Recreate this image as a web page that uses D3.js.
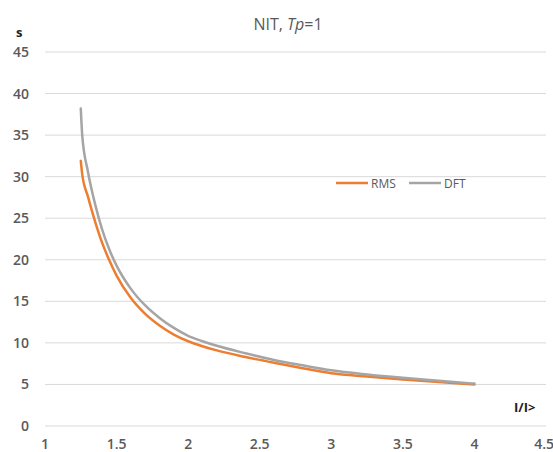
<!DOCTYPE html>
<html>
<head>
<meta charset="utf-8">
<script src="https://cdn.jsdelivr.net/npm/d3@7"></script>
<style>
  body { margin: 0; background: #fff; }
  text { font-family: "Open Sans", sans-serif; }
</style>
</head>
<body>
<svg id="chart" width="553" height="452"></svg>
<script>
// values
const current = [1.25, 1.26, 1.3, 1.35, 1.4, 1.45, 1.5, 1.6, 1.7, 1.8, 1.9, 2.0, 2.1, 2.2, 2.4, 2.6, 2.8, 3.0, 3.25, 3.5, 3.75, 4.0];
const rms = [31.9, 30.3, 27.6, 24.6, 22.0, 19.9, 18.1, 15.4, 13.5, 12.1, 11.0, 10.2, 9.6, 9.1, 8.3, 7.6, 6.95, 6.35, 5.95, 5.6, 5.28, 5.0];
const dft = [38.2, 35.0, 30.6, 26.7, 23.6, 21.2, 19.3, 16.5, 14.5, 13.0, 11.8, 10.85, 10.2, 9.65, 8.75, 7.95, 7.3, 6.7, 6.2, 5.8, 5.45, 5.1];
const xTicks = [1, 1.5, 2, 2.5, 3, 3.5, 4, 4.5];
const yTicks = [0, 5, 10, 15, 20, 25, 30, 35, 40, 45];
const seriesNames = ["RMS", "DFT"];
const seriesColors = ["#ED7D31", "#A5A5A5"];

const svg = d3.select("#chart");
const margin = { top: 52, right: 7, bottom: 26, left: 45 };
const width = 553 - margin.left - margin.right;
const height = 452 - margin.top - margin.bottom;

const x = d3.scaleLinear().domain([1, 4.5]).range([margin.left, margin.left + width]);
const y = d3.scaleLinear().domain([0, 45]).range([margin.top + height, margin.top]);

// gridlines
svg.append("g")
  .selectAll("line")
  .data(yTicks)
  .enter()
  .append("line")
  .attr("x1", x(1))
  .attr("x2", x(4.5))
  .attr("y1", d => y(d))
  .attr("y2", d => y(d))
  .attr("stroke", "#d9d9d9")
  .attr("stroke-width", 1);

// y tick labels
svg.append("g")
  .selectAll("text")
  .data(yTicks)
  .enter()
  .append("text")
  .attr("x", 29)
  .attr("y", d => y(d) + 5)
  .attr("text-anchor", "end")
  .style("font-size", "14px")
  .style("font-weight", "600")
  .style("fill", "#595959")
  .text(d => d);

// x tick labels
svg.append("g")
  .selectAll("text")
  .data(xTicks)
  .enter()
  .append("text")
  .attr("x", d => x(d))
  .attr("y", 449)
  .attr("text-anchor", d => d === 4.5 ? "end" : "middle")
  .attr("dx", d => d === 4.5 ? 8 : 0)
  .style("font-size", "14px")
  .style("font-weight", "600")
  .style("fill", "#595959")
  .text(d => d);

// lines
const line = d3.line()
  .x((d, i) => x(current[i]))
  .y(d => y(d))
  .curve(d3.curveMonotoneX);

[rms, dft].forEach((vals, k) => {
  svg.append("path")
    .datum(vals)
    .attr("d", line)
    .attr("fill", "none")
    .attr("stroke", seriesColors[k])
    .attr("stroke-width", 2.5)
    .attr("stroke-linecap", "round");
});

// title
const title = svg.append("text")
  .attr("x", 288)
  .attr("y", 30)
  .attr("text-anchor", "middle")
  .style("font-size", "16px")
  .style("fill", "#595959");
title.append("tspan").text("NIT, ");
title.append("tspan").style("font-style", "italic").text("Tp");
title.append("tspan").text("=1");

// axis labels
svg.append("text")
  .attr("x", 16)
  .attr("y", 37)
  .style("font-size", "13px")
  .style("font-weight", "bold")
  .style("fill", "#222")
  .text("s");

svg.append("text")
  .attr("x", 514)
  .attr("y", 412)
  .style("font-size", "13px")
  .style("font-weight", "bold")
  .style("fill", "#222")
  .text("I/I>");

// legend
const legendX = [336, 409];
seriesNames.forEach((name, k) => {
  svg.append("line")
    .attr("x1", legendX[k])
    .attr("x2", legendX[k] + 32)
    .attr("y1", 183)
    .attr("y2", 183)
    .attr("stroke", seriesColors[k])
    .attr("stroke-width", 2.5);
  svg.append("text")
    .attr("x", legendX[k] + 35)
    .attr("y", 187.5)
    .style("font-size", "12px")
    .style("fill", "#595959")
    .text(name);
});
</script>
</body>
</html>
